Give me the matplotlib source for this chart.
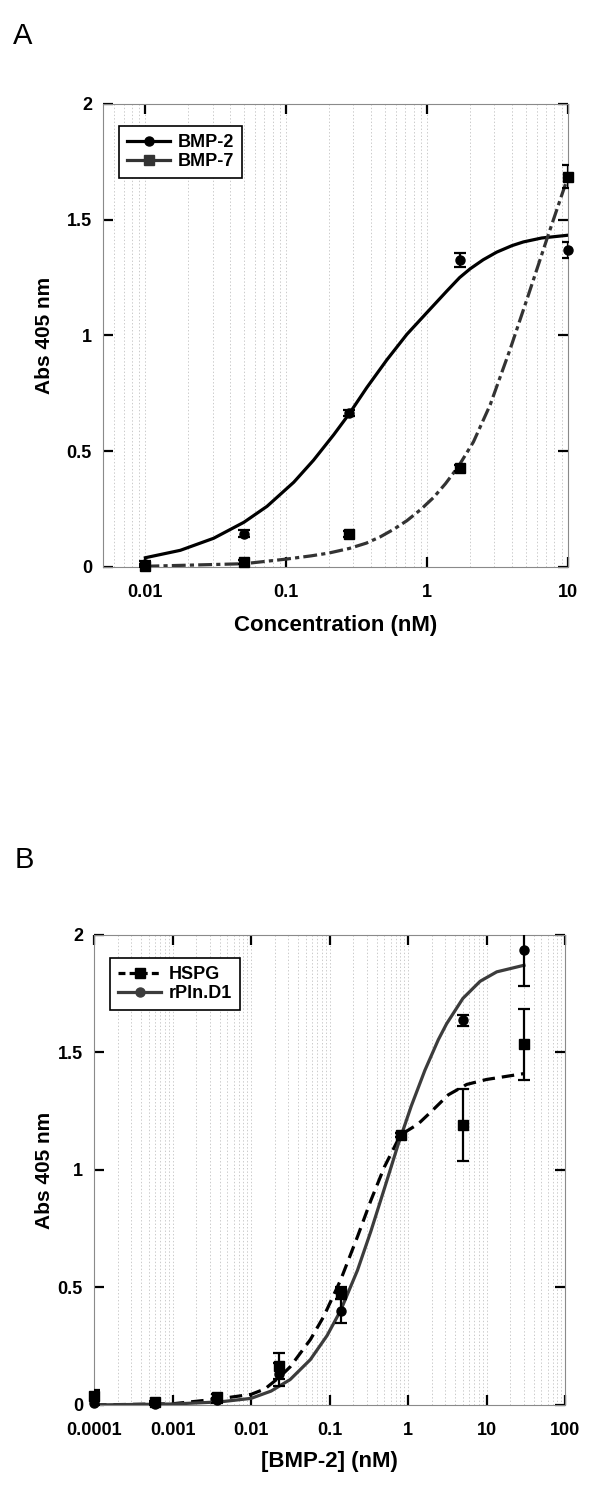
import matplotlib
matplotlib.use("Agg")
import matplotlib.pyplot as plt
import numpy as np
from matplotlib.lines import Line2D
from matplotlib.ticker import LogLocator, NullFormatter, FixedLocator

plt.rcParams['font.family'] = ['Liberation Sans', 'DejaVu Sans']
plt.rcParams['font.weight'] = 'bold'
plt.rcParams['lines.scale_dashes'] = False

# ---- panel A data ----
bmp_conc = [0.01, 0.05, 0.28, 1.7, 10]
bmp2_abs = [0.015, 0.143, 0.665, 1.326, 1.37]
bmp2_err = [0.01, 0.015, 0.012, 0.03, 0.035]
bmp7_abs = [0.005, 0.02, 0.143, 0.428, 1.685]
bmp7_err = [0.01, 0.008, 0.012, 0.012, 0.05]

# fitted curves
bmp2_fit_x = [0.01, 0.0177, 0.0305, 0.05, 0.073, 0.113, 0.156, 0.217, 0.28, 0.373,
              0.518, 0.718, 1.0, 1.38, 1.7, 2.02, 2.5, 3.12, 4.0, 4.82, 6.5, 10]
bmp2_fit_y = [0.04, 0.072, 0.124, 0.193, 0.262, 0.366, 0.461, 0.571, 0.662, 0.775,
              0.895, 1.005, 1.1, 1.192, 1.25, 1.288, 1.327, 1.36, 1.388, 1.404, 1.421, 1.433]
bmp7_fit_x = [0.01, 0.05, 0.1, 0.15, 0.2, 0.28, 0.37, 0.464, 0.58, 0.718, 0.9,
              1.11, 1.35, 1.67, 2.13, 2.8, 3.88, 5.2, 7.2, 10]
bmp7_fit_y = [0.003, 0.014, 0.034, 0.048, 0.06, 0.08, 0.103, 0.13, 0.163, 0.2, 0.248,
              0.30, 0.36, 0.435, 0.54, 0.70, 0.94, 1.17, 1.43, 1.686]

# ---- panel B data ----
b_conc = [0.0001, 0.0006, 0.0037, 0.023, 0.139, 0.82, 5.0, 30]
hspg_abs = [0.04, 0.011, 0.035, 0.165, 0.475, 1.149, 1.19, 1.534]
hspg_err = [0.025, 0.005, 0.01, 0.055, 0.025, 0.01, 0.153, 0.15]
rpln_abs = [0.01, 0.005, 0.02, 0.13, 0.40, 1.149, 1.636, 1.934]
rpln_err = [0.01, 0.005, 0.01, 0.05, 0.05, 0.01, 0.025, 0.15]

hspg_fit_x = [1e-4, 1e-3, 0.0037, 0.01, 0.015, 0.023, 0.0315, 0.057, 0.0845, 0.139,
              0.227, 0.337, 0.5, 0.743, 0.906, 1.34, 2.0, 3.27, 5.6, 10, 30]
hspg_fit_y = [0.0, 0.005, 0.025, 0.045, 0.068, 0.118, 0.162, 0.278, 0.377, 0.533,
              0.716, 0.871, 1.013, 1.127, 1.16, 1.195, 1.25, 1.32, 1.364, 1.385, 1.41]
rpln_fit_x = [1e-4, 1e-3, 0.004, 0.01, 0.018, 0.0315, 0.057, 0.093, 0.139, 0.227,
              0.337, 0.5, 0.743, 1.1, 1.64, 2.43, 3.1, 5.0, 8.3, 13.5, 30]
rpln_fit_y = [0.0, 0.004, 0.013, 0.028, 0.059, 0.108, 0.193, 0.295, 0.403, 0.573,
              0.74, 0.921, 1.105, 1.272, 1.424, 1.554, 1.622, 1.73, 1.803, 1.843, 1.871]

yticks = [0, 0.5, 1, 1.5, 2]
ytick_labels = ['0', '0.5', '1', '1.5', '2']
a_xticks = [0.01, 0.1, 1, 10]
a_xtick_labels = ['0.01', '0.1', '1', '10']
b_xticks = [0.0001, 0.001, 0.01, 0.1, 1, 10, 100]
b_xtick_labels = ['0.0001', '0.001', '0.01', '0.1', '1', '10', '100']

fig = plt.figure(figsize=(6, 14.85), dpi=100)
axA = fig.add_axes([0.1717, 0.6182, 0.775, 0.3118])
axB = fig.add_axes([0.1567, 0.0539, 0.785, 0.3165])


def style_axes(ax, xlim, xticks, xlabels):
    ax.set_xscale('log')
    ax.set_xlim(*xlim)
    ax.set_ylim(0, 2)
    ax.xaxis.set_major_locator(FixedLocator(xticks))
    ax.set_xticklabels(xlabels)
    ax.xaxis.set_minor_locator(LogLocator(base=10, subs=np.arange(2, 10), numticks=20))
    ax.xaxis.set_minor_formatter(NullFormatter())
    ax.set_yticks(yticks)
    ax.set_yticklabels(ytick_labels)
    ax.tick_params(which='major', direction='in', length=7, width=1.6, color='black',
                   top=True, right=True, labelsize=13)
    ax.tick_params(axis='x', which='major', pad=12)
    ax.tick_params(axis='y', which='major', pad=8)
    ax.tick_params(which='minor', length=0, top=True)
    ax.grid(axis='x', which='both', ls=(0, (1, 1.5)), lw=0.6, color='#c2c2c2')
    ax.set_axisbelow(True)
    for s in ax.spines.values():
        s.set_color('#8a8a8a')
        s.set_linewidth(0.8)
    for lab in ax.get_xticklabels() + ax.get_yticklabels():
        lab.set_fontweight('bold')


def make_legend(ax, handles, labels, anchor):
    leg = ax.legend(handles, labels, loc='upper left', bbox_to_anchor=anchor,
                    borderaxespad=0, fancybox=False, framealpha=1, edgecolor='black',
                    prop={'weight': 'bold', 'size': 13}, handlelength=2.4,
                    handletextpad=0.4, labelspacing=0.1, borderpad=0.45)
    leg.get_frame().set_linewidth(1.2)
    return leg


ebar = dict(fmt='none', ecolor='black', elinewidth=1.6, capsize=4.5, capthick=1.6, zorder=4)

# ---- panel A ----
style_axes(axA, (0.005, 10), a_xticks, a_xtick_labels)
axA.plot(bmp2_fit_x, bmp2_fit_y, color='black', lw=2.3, zorder=3)
ln7, = axA.plot(bmp7_fit_x, bmp7_fit_y, color='#333333', lw=2.3, zorder=3)
ln7.set_dashes((10, 3, 3, 3))
axA.errorbar(bmp_conc, bmp2_abs, yerr=bmp2_err, **ebar)
axA.errorbar(bmp_conc, bmp7_abs, yerr=bmp7_err, **ebar)
axA.plot(bmp_conc, bmp2_abs, 'o', color='black', ms=6.5, ls='none', clip_on=False, zorder=5)
axA.plot(bmp_conc, bmp7_abs, 's', color='black', ms=6.5, ls='none', clip_on=False, zorder=5)

hA = [Line2D([], [], color='black', lw=2.3, marker='o', ms=6.5),
      Line2D([], [], color='#333333', lw=2.3, marker='s', ms=6.5)]
make_legend(axA, hA, ['BMP-2', 'BMP-7'], (0.034, 0.952))

fig.text(0.5592, 1 - 625 / 1485, 'Concentration (nM)', ha='center', va='center',
         fontsize=16, fontweight='bold')
fig.text(45 / 600, 1 - 335 / 1485, 'Abs 405 nm', ha='center', va='center', rotation=90,
         fontsize=15, fontweight='bold')
fig.text(13 / 600, 1 - 44 / 1485, 'A', ha='left', va='baseline', fontsize=21,
         fontweight='normal')

# ---- panel B ----
style_axes(axB, (0.0001, 100), b_xticks, b_xtick_labels)
lnh, = axB.plot(hspg_fit_x, hspg_fit_y, color='black', lw=2.3, zorder=3)
lnh.set_dashes((9, 5))
axB.plot(rpln_fit_x, rpln_fit_y, color='#3c3c3c', lw=2.3, zorder=3)
axB.errorbar(b_conc, hspg_abs, yerr=hspg_err, **ebar)
axB.errorbar(b_conc, rpln_abs, yerr=rpln_err, **ebar)
axB.plot(b_conc, hspg_abs, 's', color='black', ms=6.5, ls='none', clip_on=False, zorder=5)
axB.plot(b_conc, rpln_abs, 'o', color='black', ms=6.5, ls='none', clip_on=False, zorder=5)

hB = [Line2D([], [], color='black', lw=2.3, marker='s', ms=6.5, dashes=(5, 3)),
      Line2D([], [], color='#3c3c3c', lw=2.3, marker='o', ms=6.5)]
make_legend(axB, hB, ['HSPG', 'rPln.D1'], (0.034, 0.951))

fig.text(0.5492, 1 - 1462 / 1485, '[BMP-2] (nM)', ha='center', va='center',
         fontsize=16, fontweight='bold')
fig.text(45 / 600, 1 - 1170 / 1485, 'Abs 405 nm', ha='center', va='center', rotation=90,
         fontsize=15, fontweight='bold')
fig.text(15 / 600, 1 - 868 / 1485, 'B', ha='left', va='baseline', fontsize=21,
         fontweight='normal')

fig.savefig('out.png', dpi=100)
